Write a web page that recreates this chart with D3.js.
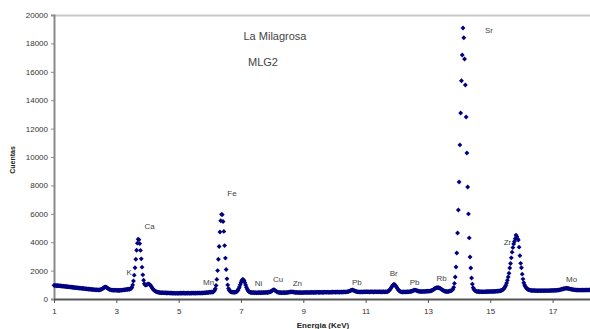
<!DOCTYPE html>
<html>
<head>
<meta charset="utf-8">
<script src="https://cdn.jsdelivr.net/npm/d3@7"></script>
<style>
  body { margin: 0; background: #fff; }
  svg { display: block; font-family: Arial, "Liberation Sans", sans-serif; }
</style>
</head>
<body>
<div id="chart"></div>
<script>
// spectrum: one count value per channel, channels 0.025 keV wide starting at 1 keV
const startEnergy = 1
const channelWidth = 0.025
const counts = [
  // 1 keV
  960, 945, 955, 935, 950, 930, 940, 920, 930, 910, 915, 900, 905, 885, 895, 870, 880, 860, 870, 850,
  855, 835, 845, 820, 830, 810, 815, 795, 805, 785, 790, 770, 780, 760, 765, 750, 755, 740, 745, 730,
  // 2 keV
  725, 710, 720, 700, 705, 690, 695, 675, 685, 665, 670, 655, 660, 645, 650, 640, 645, 635, 645, 650,
  665, 685, 715, 755, 800, 830, 845, 835, 800, 755, 710, 680, 655, 640, 630, 625, 615, 625, 610, 620,
  // 3 keV (K, Ca)
  605, 620, 600, 615, 600, 620, 610, 630, 620, 640, 650, 640, 665, 680, 670, 690, 700, 690, 715, 740,
  830, 990, 1270, 1680, 2200, 2800, 3430, 3930, 4210, 4180, 3900, 3420, 2830, 2240, 1700, 1320, 1080, 980, 980, 1010,
  // 4 keV
  1040, 1060, 1050, 1010, 950, 870, 780, 700, 640, 590, 550, 520, 500, 480, 470, 460, 450, 445, 440, 450,
  435, 445, 430, 440, 425, 435, 420, 430, 415, 425, 410, 420, 405, 415, 400, 410, 395, 410, 400, 405,
  // 5 keV (Mn)
  400, 415, 405, 420, 400, 410, 420, 405, 415, 400, 415, 405, 420, 410, 400, 415, 405, 420, 410, 425,
  415, 405, 420, 410, 425, 415, 430, 420, 410, 425, 435, 420, 430, 440, 430, 445, 455, 445, 460, 470,
  // 6 keV (Fe)
  480, 475, 490, 485, 490, 520, 590, 720, 950, 1380, 2000, 2800, 3700, 4720, 5510, 5960, 5940, 5460, 4760, 3760,
  2880, 2080, 1420, 990, 740, 610, 540, 510, 495, 485, 475, 470, 475, 480, 500, 545, 610, 715, 845, 1005,
  // 7 keV (Fe Kb, Ni)
  1165, 1295, 1370, 1360, 1290, 1150, 990, 830, 700, 600, 530, 490, 470, 455, 460, 445, 455, 440, 450, 445,
  435, 450, 440, 455, 445, 440, 455, 445, 450, 460, 450, 465, 455, 470, 460, 475, 480, 495, 515, 545,
  // 8 keV (Cu, Zn)
  590, 630, 650, 635, 595, 550, 510, 480, 465, 455, 445, 455, 440, 450, 445, 455, 440, 450, 460, 450,
  465, 470, 480, 490, 500, 505, 500, 490, 480, 470, 460, 465, 455, 460, 450, 455, 445, 455, 450, 445,
  // 9 keV
  460, 450, 465, 455, 470, 460, 450, 465, 455, 470, 460, 475, 465, 455, 470, 460, 475, 465, 480, 470,
  460, 475, 465, 480, 470, 460, 475, 485, 470, 480, 470, 485, 475, 465, 480, 470, 485, 475, 490, 480,
  // 10 keV (Pb)
  485, 475, 490, 480, 495, 485, 475, 490, 480, 495, 485, 495, 490, 500, 495, 505, 500, 515, 530, 550,
  575, 600, 625, 635, 625, 600, 570, 545, 525, 510, 500, 505, 495, 500, 490, 505, 495, 500, 510, 505,
  // 11 keV (Br)
  500, 510, 500, 515, 505, 495, 510, 500, 515, 505, 495, 510, 500, 515, 505, 500, 510, 500, 515, 505,
  495, 510, 500, 515, 505, 500, 510, 505, 524, 548, 587, 646, 723, 814, 905, 981, 1024, 1020, 975, 900,
  // 12 keV (Pb)
  810, 715, 640, 580, 540, 515, 500, 495, 505, 490, 500, 495, 505, 500, 510, 505, 515, 520, 530, 545,
  565, 590, 615, 630, 625, 605, 580, 560, 545, 535, 525, 530, 520, 530, 525, 535, 530, 540, 545, 545,
  // 13 keV (Rb, Sr)
  545, 550, 555, 565, 580, 600, 630, 665, 705, 740, 770, 790, 800, 800, 790, 770, 740, 700, 660, 620,
  585, 560, 540, 530, 525, 520, 525, 540, 560, 575, 590, 620, 680, 820, 1100, 1550, 2250, 3240, 4650, 6270,
  // 14 keV (Sr)
  8240, 10850, 13100, 15370, 17180, 19085, 18400, 16900, 15070, 12820, 10280, 7890, 5990, 4300, 2960, 2180, 1480, 1050, 800, 680,
  610, 570, 545, 530, 520, 525, 510, 520, 505, 515, 510, 500, 515, 505, 520, 510, 525, 515, 530, 520,
  // 15 keV (Zr)
  525, 535, 520, 530, 540, 530, 545, 535, 550, 545, 560, 555, 570, 580, 600, 620, 650, 700, 770, 860,
  960, 1130, 1320, 1550, 1810, 2180, 2500, 2900, 3300, 3620, 3880, 4050, 4250, 4500, 4400, 4250, 4150, 3650, 3050, 2510,
  // 16 keV
  2200, 1750, 1400, 1150, 990, 880, 790, 730, 690, 660, 640, 620, 610, 600, 595, 605, 590, 600, 585, 595,
  590, 580, 595, 585, 590, 580, 590, 585, 595, 580, 590, 585, 595, 590, 585, 595, 590, 600, 595, 605,
  // 17 keV (Mo)
  605, 600, 610, 605, 615, 610, 620, 625, 635, 645, 660, 675, 690, 705, 720, 735, 745, 750, 755, 750,
  740, 730, 715, 700, 690, 675, 665, 655, 645, 640, 635, 630, 635, 625, 630, 620, 630, 625, 635, 625,
  // 18 keV
  630, 625, 635, 630, 640, 630, 635, 640, 630
]

const xTicks = [1, 3, 5, 7, 9, 11, 13, 15, 17]
const yTicks = [0, 2000, 4000, 6000, 8000, 10000, 12000, 14000, 16000, 18000, 20000]

// element labels, anchored in keV / counts
const peakNames = ['K', 'Ca', 'Fe', 'Mn', 'Ni', 'Cu', 'Zn', 'Pb', 'Br', 'Pb', 'Rb', 'Sr', 'Zr', 'Mo']
const peakEnergy = [3.41, 4.07, 6.71, 5.96, 7.56, 8.19, 8.81, 10.72, 11.9, 12.57, 13.44, 14.96, 15.55, 17.61]
const peakCount = [1690, 4930, 7250, 985, 915, 1200, 915, 985, 1620, 985, 1270, 18730, 3800, 1200]

const titleLines = ['La Milagrosa', 'MLG2']

const width = 590
const height = 329
const margin = { top: 15, right: 0, bottom: 30, left: 54 }
const plotW = width - margin.left - margin.right
const plotH = height - margin.top - margin.bottom

const data = counts.map((c, i) => ({ e: startEnergy + i * channelWidth, c: c }))

const svg = d3.select('#chart').append('svg')
    .attr('width', width)
    .attr('height', height)

const g = svg.append('g')
    .attr('transform', 'translate(' + margin.left + ',' + margin.top + ')')

const x = d3.scaleLinear().domain([1, 18.2]).range([0, plotW])
const y = d3.scaleLinear().domain([0, 20000]).range([plotH, 0])

// top border of plot area
g.append('line')
    .attr('x1', 0).attr('x2', plotW)
    .attr('y1', 0.5).attr('y2', 0.5)
    .attr('stroke', '#c8c8c8')
    .attr('stroke-width', 2)

// y axis
const yAxis = g.append('g')
    .call(d3.axisLeft(y).tickValues(yTicks).tickSize(3).tickFormat(d3.format('d')))
yAxis.select('.domain').attr('stroke', '#8a8a8a').attr('stroke-width', 2)
yAxis.selectAll('.tick line').attr('stroke', '#8a8a8a')
yAxis.selectAll('text')
    .attr('x', -6)
    .attr('font-size', '8px')
    .attr('fill', '#333')
    .style('font-family', 'Arial, "Liberation Sans", sans-serif')

// x axis
const xAxis = g.append('g')
    .attr('transform', 'translate(0,' + plotH + ')')
    .call(d3.axisBottom(x).tickValues(xTicks).tickSize(4).tickSizeOuter(0))
xAxis.select('.domain').attr('stroke', '#555').attr('stroke-width', 2)
xAxis.selectAll('.tick line').attr('stroke', '#555')
xAxis.selectAll('text')
    .attr('y', 9)
    .attr('font-size', '8px')
    .attr('fill', '#333')
    .style('font-family', 'Arial, "Liberation Sans", sans-serif')

// axis titles
svg.append('text')
    .attr('transform', 'translate(15,' + 160 + ') rotate(-90)')
    .attr('text-anchor', 'middle')
    .attr('font-size', '7px')
    .attr('font-weight', 'bold')
    .attr('fill', '#222')
    .text('Cuentas')

svg.append('text')
    .attr('x', 323)
    .attr('y', 328)
    .attr('text-anchor', 'middle')
    .attr('font-size', '8px')
    .attr('font-weight', 'bold')
    .attr('fill', '#222')
    .text('Energia (KeV)')

// spectrum markers
g.selectAll('path.pt')
    .data(data)
    .enter()
    .append('path')
    .attr('class', 'pt')
    .attr('d', d3.symbol(d3.symbolDiamond2, 15))
    .attr('transform', d => 'translate(' + x(d.e) + ',' + y(d.c) + ')')
    .attr('fill', '#000080')

// element labels
g.selectAll('text.peak')
    .data(peakNames)
    .enter()
    .append('text')
    .attr('class', 'peak')
    .attr('x', (d, i) => x(peakEnergy[i]))
    .attr('y', (d, i) => y(peakCount[i]))
    .attr('text-anchor', 'middle')
    .attr('font-size', '8px')
    .attr('fill', '#444')
    .text(d => d)

// sample title
g.selectAll('text.title')
    .data(titleLines)
    .enter()
    .append('text')
    .attr('class', 'title')
    .attr('x', (d, i) => (i === 0 ? 221 : 209))
    .attr('y', (d, i) => 25 + i * 26)
    .attr('text-anchor', 'middle')
    .attr('font-size', '11px')
    .attr('fill', '#444')
    .text(d => d)
</script>
</body>
</html>
